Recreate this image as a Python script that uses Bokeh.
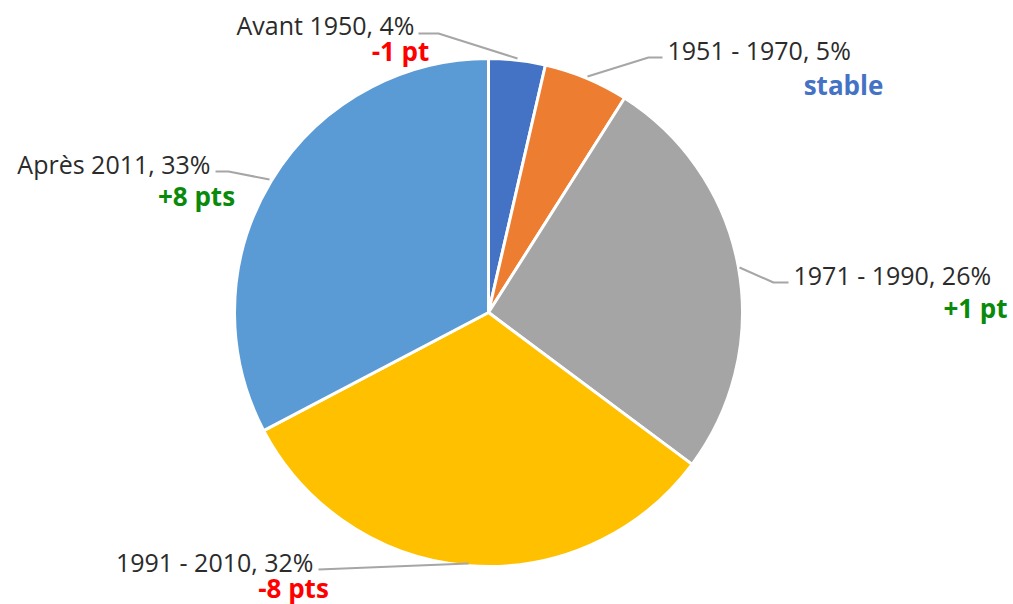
import math
from bokeh.plotting import figure
from bokeh.models import Range1d, ColumnDataSource
from bokeh.core.properties import value
from bokeh.embed import file_html
from bokeh.resources import INLINE

# ---- data ----
categories = ["Avant 1950", "1951 - 1970", "1971 - 1990", "1991 - 2010", "Après 2011"]
shares = [3.6, 5.4, 26.2, 32.1, 32.7]
share_labels = ["4%", "5%", "26%", "32%", "33%"]
changes = ["-1 pt", "stable", "+1 pt", "-8 pts", "+8 pts"]

# ---- styles ----
colors = ["#4472C4", "#ED7D31", "#A5A5A5", "#FFC000", "#5B9BD5"]
change_colors = ["#FF0000", "#4472C4", "#0A8A0A", "#FF0000", "#0A8A0A"]

W, H = 1013, 604
def Y(sy):
    return H - sy

p = figure(width=W, height=H, output_backend="svg", toolbar_location=None,
           x_range=Range1d(0, W), y_range=Range1d(0, H),
           min_border=0)
p.axis.visible = False
p.grid.visible = False
p.outline_line_color = None
p.background_fill_color = "white"

cx, cy, r = 488, Y(312), 254
total = sum(shares)
starts, ends = [], []
cum = 0.0
for s in shares:
    starts.append(math.pi / 2 - cum / total * 2 * math.pi)
    cum += s
    ends.append(math.pi / 2 - cum / total * 2 * math.pi)

src = ColumnDataSource(dict(x=[cx] * len(shares), y=[cy] * len(shares),
                            start=starts, end=ends, color=colors))
p.wedge(x="x", y="y", radius=r, start_angle="start", end_angle="end",
        direction="clock", fill_color="color", line_color="white",
        line_width=3, source=src)

# leader lines (screen coords)
leaders = [
    [(418, 33), (438, 33), (517, 58)],
    [(662, 57), (648, 57), (587, 76)],
    [(739, 267), (773, 282), (788, 282)],
    [(318, 569), (468, 563)],
    [(215, 171), (228, 171), (269, 179)],
]
for pts in leaders:
    p.line([q[0] for q in pts], [Y(q[1]) for q in pts], line_color="#A6A6A6", line_width=2)

# label layout (screen coords)
lab_pos = [(414, 24, "right"), (667, 49, "left"), (793, 274, "left"),
           (313, 561, "right"), (210, 163, "right")]
chg_pos = [(400, 50), (843, 84), (975, 307), (293, 587), (196, 195)]

labels = [f"{c}, {s}" for c, s in zip(categories, share_labels)]
p.text(x=[q[0] for q in lab_pos], y=[Y(q[1]) for q in lab_pos], text=labels,
       text_align=[q[2] for q in lab_pos], text_baseline="middle",
       text_font=value("Open Sans"), text_font_size="25px", text_color="#2B2B2B")
p.text(x=[q[0] for q in chg_pos], y=[Y(q[1]) for q in chg_pos], text=changes,
       text_align="center", text_baseline="middle",
       text_font=value("Open Sans"), text_font_size="26px", text_font_style="bold",
       text_color=change_colors)

open("out.html", "w").write(file_html(p, INLINE))
